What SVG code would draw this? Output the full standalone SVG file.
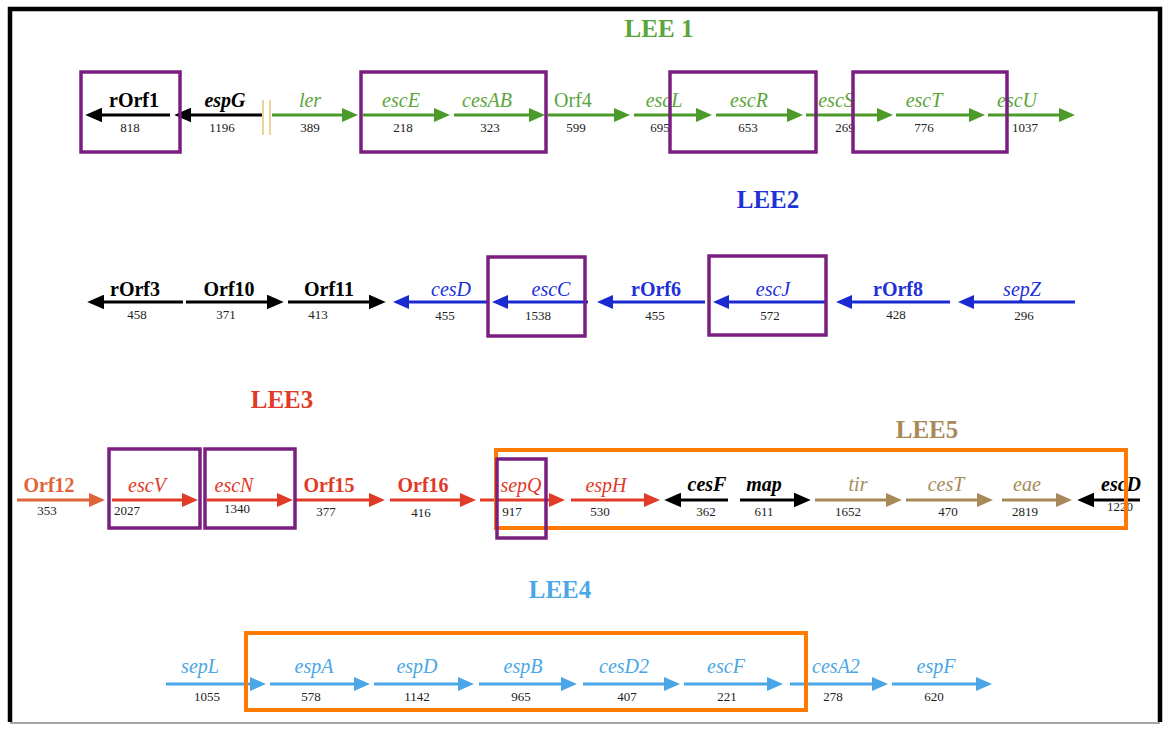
<svg xmlns="http://www.w3.org/2000/svg" width="1168" height="731" viewBox="0 0 1168 731">
<style>
text{font-family:"Liberation Serif","Times New Roman",serif;text-anchor:middle}
.t{font-size:25px;font-weight:bold}
.l{font-size:20px;font-style:italic}
.o{font-size:20px;font-weight:bold}
.u{font-size:20px}
.bi{font-size:20px;font-style:italic;font-weight:bold}
.n{font-size:13px;fill:#222}
.a{stroke-width:3.2;fill:none}
.pb{fill:none;stroke:#7a1f80;stroke-width:3.5}
.ob{fill:none;stroke:#ff7a00;stroke-width:4}
.gr{fill:#5aa53a}.grs{stroke:#4c9a2a}
.bk{fill:#000}.bks{stroke:#000}
.bl{fill:#2030d8}.bls{stroke:#1a2ad0}
.rd{fill:#e03a28}.rds{stroke:#e03a28}
.or{fill:#e0643a}.ors{stroke:#e0643a}
.tn{fill:#a8895a}.tns{stroke:#a8895a}
.lb{fill:#4aa6e6}.lbs{stroke:#4aa6e6}
</style>
<defs>
<marker id="m-gr" viewBox="0 0 16 14" refX="4" refY="7" markerWidth="16" markerHeight="14" markerUnits="userSpaceOnUse" orient="auto"><path d="M0,0L16,7L0,14z" fill="#4c9a2a"/></marker>
<marker id="m-bk" viewBox="0 0 16 14" refX="4" refY="7" markerWidth="17" markerHeight="15" markerUnits="userSpaceOnUse" orient="auto"><path d="M0,0L16,7L0,14z" fill="#000"/></marker>
<marker id="m-bl" viewBox="0 0 16 14" refX="4" refY="7" markerWidth="16" markerHeight="14" markerUnits="userSpaceOnUse" orient="auto"><path d="M0,0L16,7L0,14z" fill="#1a2ad0"/></marker>
<marker id="m-rd" viewBox="0 0 16 14" refX="4" refY="7" markerWidth="16" markerHeight="14" markerUnits="userSpaceOnUse" orient="auto"><path d="M0,0L16,7L0,14z" fill="#e03a28"/></marker>
<marker id="m-or" viewBox="0 0 16 14" refX="4" refY="7" markerWidth="16" markerHeight="14" markerUnits="userSpaceOnUse" orient="auto"><path d="M0,0L16,7L0,14z" fill="#e0643a"/></marker>
<marker id="m-tn" viewBox="0 0 16 14" refX="4" refY="7" markerWidth="16" markerHeight="14" markerUnits="userSpaceOnUse" orient="auto"><path d="M0,0L16,7L0,14z" fill="#a8895a"/></marker>
<marker id="m-lb" viewBox="0 0 16 14" refX="4" refY="7" markerWidth="16" markerHeight="14" markerUnits="userSpaceOnUse" orient="auto"><path d="M0,0L16,7L0,14z" fill="#4aa6e6"/></marker>
</defs>
<rect width="1168" height="731" fill="#fff"/>
<g id="frame">
<path d="M10,722V9H1160V722" fill="none" stroke="#000" stroke-width="4.5"/>
<line x1="10" y1="723" x2="1160" y2="723" stroke="#888" stroke-width="1.5"/>
</g>
<g id="titles">
<text class="t gr" x="659" y="37">LEE 1</text>
<text class="t bl" x="768" y="208">LEE2</text>
<text class="t rd" x="282" y="408">LEE3</text>
<text class="t tn" x="927" y="438">LEE5</text>
<text class="t lb" x="560" y="598">LEE4</text>
</g>
<g id="connectors">
<line x1="263" y1="100" x2="263" y2="135" stroke="#e6c475" stroke-width="1.5"/>
<line x1="270" y1="100" x2="270" y2="135" stroke="#e6c475" stroke-width="1.5"/>
</g>
<g id="lee1">
<g id="rOrf1"><line class="a bks" x1="170" y1="115" x2="98" y2="115" marker-end="url(#m-bk)"/><text class="o bk" x="134" y="107">rOrf1</text><text class="n" x="130" y="132">818</text></g>
<g id="espG"><line class="a bks" x1="262" y1="115" x2="187" y2="115" marker-end="url(#m-bk)"/><text class="bi bk" x="225" y="107">espG</text><text class="n" x="222" y="132">1196</text></g>
<g id="ler"><line class="a grs" x1="272" y1="115" x2="346" y2="115" marker-end="url(#m-gr)"/><text class="l gr" x="310" y="107">ler</text><text class="n" x="310" y="132">389</text></g>
<g id="escE"><line class="a grs" x1="363" y1="115" x2="438" y2="115" marker-end="url(#m-gr)"/><text class="l gr" x="401" y="107">escE</text><text class="n" x="403" y="132">218</text></g>
<g id="cesAB"><line class="a grs" x1="454" y1="115" x2="533" y2="115" marker-end="url(#m-gr)"/><text class="l gr" x="487" y="107">cesAB</text><text class="n" x="490" y="132">323</text></g>
<g id="Orf4"><line class="a grs" x1="548" y1="115" x2="618" y2="115" marker-end="url(#m-gr)"/><text class="u gr" x="573" y="107">Orf4</text><text class="n" x="576" y="132">599</text></g>
<g id="escL"><line class="a grs" x1="634" y1="115" x2="700" y2="115" marker-end="url(#m-gr)"/><text class="l gr" x="664" y="107">escL</text><text class="n" x="660" y="132">695</text></g>
<g id="escR"><line class="a grs" x1="716" y1="115" x2="791" y2="115" marker-end="url(#m-gr)"/><text class="l gr" x="749" y="107">escR</text><text class="n" x="748" y="132">653</text></g>
<g id="escS"><line class="a grs" x1="806" y1="115" x2="881" y2="115" marker-end="url(#m-gr)"/><text class="l gr" x="836" y="107">escS</text><text class="n" x="845" y="132">269</text></g>
<g id="escT"><line class="a grs" x1="896" y1="115" x2="973" y2="115" marker-end="url(#m-gr)"/><text class="l gr" x="924" y="107">escT</text><text class="n" x="924" y="132">776</text></g>
<g id="escU"><line class="a grs" x1="988" y1="115" x2="1063" y2="115" marker-end="url(#m-gr)"/><text class="l gr" x="1017" y="107">escU</text><text class="n" x="1025" y="132">1037</text></g>
</g>
<g id="lee2">
<g id="rOrf3"><line class="a bks" x1="183" y1="302" x2="100" y2="302" marker-end="url(#m-bk)"/><text class="o bk" x="135" y="296">rOrf3</text><text class="n" x="137" y="319">458</text></g>
<g id="Orf10"><line class="a bks" x1="186" y1="302" x2="271" y2="302" marker-end="url(#m-bk)"/><text class="o bk" x="229" y="296">Orf10</text><text class="n" x="226" y="319">371</text></g>
<g id="Orf11"><line class="a bks" x1="288" y1="302" x2="373" y2="302" marker-end="url(#m-bk)"/><text class="o bk" x="329" y="296">Orf11</text><text class="n" x="318" y="319">413</text></g>
<g id="cesD"><line class="a bls" x1="487" y1="302" x2="405" y2="302" marker-end="url(#m-bl)"/><text class="l bl" x="451" y="296">cesD</text><text class="n" x="445" y="320">455</text></g>
<g id="escC"><line class="a bls" x1="588" y1="302" x2="504" y2="302" marker-end="url(#m-bl)"/><text class="l bl" x="551" y="296">escC</text><text class="n" x="538" y="320">1538</text></g>
<g id="rOrf6"><line class="a bls" x1="705" y1="302" x2="609" y2="302" marker-end="url(#m-bl)"/><text class="o bl" x="656" y="296">rOrf6</text><text class="n" x="655" y="320">455</text></g>
<g id="escJ"><line class="a bls" x1="826" y1="302" x2="725" y2="302" marker-end="url(#m-bl)"/><text class="l bl" x="773" y="296">escJ</text><text class="n" x="770" y="320">572</text></g>
<g id="rOrf8"><line class="a bls" x1="950" y1="302" x2="848" y2="302" marker-end="url(#m-bl)"/><text class="o bl" x="898" y="296">rOrf8</text><text class="n" x="896" y="319">428</text></g>
<g id="sepZ"><line class="a bls" x1="1075" y1="302" x2="970" y2="302" marker-end="url(#m-bl)"/><text class="l bl" x="1022" y="296">sepZ</text><text class="n" x="1024" y="320">296</text></g>
</g>
<g id="lee3">
<g id="Orf12"><line class="a ors" x1="17" y1="500" x2="93" y2="500" marker-end="url(#m-or)"/><text class="o or" x="49" y="492">Orf12</text><text class="n" x="47" y="515">353</text></g>
<g id="escV"><line class="a rds" x1="112" y1="500" x2="186" y2="500" marker-end="url(#m-rd)"/><text class="l rd" x="147" y="492">escV</text><text class="n" x="127" y="515">2027</text></g>
<g id="escN"><line class="a rds" x1="207" y1="500" x2="281" y2="500" marker-end="url(#m-rd)"/><text class="l rd" x="234" y="492">escN</text><text class="n" x="237" y="513">1340</text></g>
<g id="Orf15"><line class="a rds" x1="296" y1="500" x2="373" y2="500" marker-end="url(#m-rd)"/><text class="o rd" x="329" y="492">Orf15</text><text class="n" x="326" y="516">377</text></g>
<g id="Orf16"><line class="a rds" x1="390" y1="500" x2="464" y2="500" marker-end="url(#m-rd)"/><text class="o rd" x="423" y="492">Orf16</text><text class="n" x="421" y="517">416</text></g>
<g id="sepQ"><line class="a rds" x1="480" y1="500" x2="553" y2="500" marker-end="url(#m-rd)"/><text class="l rd" x="521" y="492">sepQ</text><text class="n" x="512" y="516">917</text></g>
<g id="espH"><line class="a rds" x1="571" y1="500" x2="648" y2="500" marker-end="url(#m-rd)"/><text class="l rd" x="606" y="492">espH</text><text class="n" x="600" y="516">530</text></g>
</g>
<g id="lee5">
<g id="cesF"><line class="a bks" x1="728" y1="500" x2="677" y2="500" marker-end="url(#m-bk)"/><text class="bi bk" x="707" y="491">cesF</text><text class="n" x="706" y="516">362</text></g>
<g id="map"><line class="a bks" x1="740" y1="500" x2="798" y2="500" marker-end="url(#m-bk)"/><text class="bi bk" x="764" y="491">map</text><text class="n" x="764" y="516">611</text></g>
<g id="tir"><line class="a tns" x1="815" y1="500" x2="890" y2="500" marker-end="url(#m-tn)"/><text class="l tn" x="858" y="491">tir</text><text class="n" x="848" y="516">1652</text></g>
<g id="cesT"><line class="a tns" x1="906" y1="500" x2="981" y2="500" marker-end="url(#m-tn)"/><text class="l tn" x="946" y="491">cesT</text><text class="n" x="948" y="516">470</text></g>
<g id="eae"><line class="a tns" x1="1002" y1="500" x2="1060" y2="500" marker-end="url(#m-tn)"/><text class="l tn" x="1027" y="491">eae</text><text class="n" x="1025" y="516">2819</text></g>
<g id="escD"><line class="a bks" x1="1140" y1="500" x2="1090" y2="500" marker-end="url(#m-bk)"/><text class="bi bk" x="1121" y="491">escD</text><text class="n" x="1120" y="511">1220</text></g>
</g>
<g id="lee4">
<g id="sepL"><line class="a lbs" x1="166" y1="684" x2="254" y2="684" marker-end="url(#m-lb)"/><text class="l lb" x="200" y="673">sepL</text><text class="n" x="207" y="701">1055</text></g>
<g id="espA"><line class="a lbs" x1="270" y1="684" x2="358" y2="684" marker-end="url(#m-lb)"/><text class="l lb" x="314" y="673">espA</text><text class="n" x="311" y="701">578</text></g>
<g id="espD"><line class="a lbs" x1="374" y1="684" x2="462" y2="684" marker-end="url(#m-lb)"/><text class="l lb" x="417" y="673">espD</text><text class="n" x="417" y="701">1142</text></g>
<g id="espB"><line class="a lbs" x1="479" y1="684" x2="565" y2="684" marker-end="url(#m-lb)"/><text class="l lb" x="523" y="673">espB</text><text class="n" x="521" y="701">965</text></g>
<g id="cesD2"><line class="a lbs" x1="583" y1="684" x2="668" y2="684" marker-end="url(#m-lb)"/><text class="l lb" x="624" y="673">cesD2</text><text class="n" x="627" y="701">407</text></g>
<g id="escF"><line class="a lbs" x1="684" y1="684" x2="771" y2="684" marker-end="url(#m-lb)"/><text class="l lb" x="726" y="673">escF</text><text class="n" x="727" y="701">221</text></g>
<g id="cesA2"><line class="a lbs" x1="790" y1="684" x2="876" y2="684" marker-end="url(#m-lb)"/><text class="l lb" x="836" y="673">cesA2</text><text class="n" x="833" y="701">278</text></g>
<g id="espF"><line class="a lbs" x1="892" y1="684" x2="980" y2="684" marker-end="url(#m-lb)"/><text class="l lb" x="936" y="673">espF</text><text class="n" x="934" y="701">620</text></g>
</g>
<g id="highlights">
<rect class="pb" x="81" y="72" width="99" height="80"/>
<rect class="pb" x="361" y="72" width="185" height="80"/>
<rect class="pb" x="670" y="72" width="146" height="80"/>
<rect class="pb" x="853" y="72" width="154" height="80"/>
<rect class="pb" x="488" y="257" width="97" height="79"/>
<rect class="pb" x="709" y="256" width="117" height="79"/>
<rect class="pb" x="109" y="449" width="91" height="79"/>
<rect class="pb" x="205" y="449" width="90" height="79"/>
<rect class="ob" x="496" y="450" width="630" height="78"/>
<rect class="pb" x="497" y="459" width="49" height="79"/>
<rect class="ob" x="246" y="633" width="560" height="77"/>
</g>
</svg>
